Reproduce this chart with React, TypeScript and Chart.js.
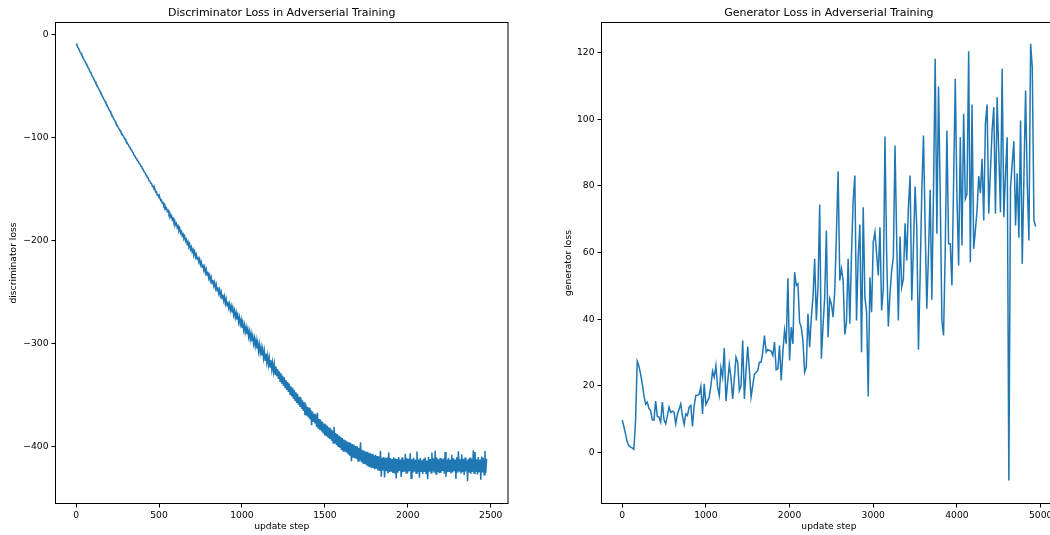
import React, { useEffect, useRef } from 'react';
import { Chart, registerables } from 'chart.js';

Chart.register(...registerables);

// ---------- data ----------
const DISC_STEP = 5; // update steps between stored discriminator samples
const DISC_LOSS = [
  -9.0, -10.4, -12.3, -13.6, -15.5, -17.1, -18.4, -20.3, -21.7, -23.6,
  -25.1, -26.4, -28.3, -29.7, -31.6, -33.0, -34.5, -36.3, -37.8, -39.6,
  -41.3, -42.5, -44.4, -45.8, -47.7, -48.9, -50.8, -52.3, -53.9, -55.6,
  -57.4, -58.6, -60.5, -61.9, -63.8, -65.0, -66.9, -68.2, -70.1, -71.4,
  -73.4, -74.5, -76.6, -77.8, -79.8, -81.0, -82.9, -84.3, -86.2, -87.5,
  -89.3, -90.2, -92.1, -93.1, -95.0, -95.8, -97.7, -98.5, -100.4, -101.3,
  -103.4, -104.1, -106.1, -107.0, -108.9, -109.6, -111.7, -112.4, -114.3, -115.1,
  -117.5, -117.9, -120.1, -120.6, -122.8, -123.0, -125.3, -125.7, -127.9, -128.2,
  -130.6, -131.0, -133.5, -133.7, -136.4, -136.6, -139.0, -139.3, -142.1, -142.2,
  -144.7, -144.8, -147.6, -147.4, -150.5, -150.2, -153.3, -152.9, -156.1, -155.8,
  -158.6, -158.5, -161.4, -160.8, -164.0, -163.4, -166.7, -165.8, -169.3, -168.5,
  -171.8, -170.9, -174.6, -173.4, -177.3, -175.9, -179.9, -178.6, -182.5, -181.2,
  -185.0, -183.6, -187.8, -186.0, -190.6, -188.5, -193.1, -191.4, -195.7, -194.0,
  -198.1, -196.3, -200.9, -199.0, -203.5, -201.4, -206.2, -204.1, -208.8, -206.5,
  -211.3, -209.0, -213.9, -211.2, -216.4, -213.8, -218.5, -216.0, -221.1, -218.2,
  -223.6, -221.0, -226.2, -223.4, -228.9, -225.8, -231.5, -228.3, -234.0, -230.6,
  -236.8, -233.9, -239.3, -236.0, -241.9, -238.5, -244.0, -240.7, -246.6, -243.1,
  -249.0, -245.6, -251.5, -247.9, -253.8, -250.3, -256.4, -252.6, -258.5, -254.7,
  -261.4, -257.2, -263.5, -259.6, -265.6, -261.8, -267.9, -263.7, -270.1, -265.6,
  -272.6, -268.3, -274.9, -270.3, -277.0, -272.8, -279.6, -274.9, -281.5, -277.2,
  -284.9, -280.0, -287.0, -282.1, -289.3, -284.3, -291.2, -286.5, -293.6, -288.4,
  -296.1, -290.6, -298.2, -293.1, -300.4, -295.0, -302.7, -296.8, -304.9, -299.3,
  -307.5, -301.2, -309.4, -303.6, -311.8, -305.7, -314.2, -307.6, -316.5, -310.0,
  -318.7, -312.1, -320.9, -314.3, -323.1, -316.4, -325.4, -318.8, -327.6, -320.7,
  -330.1, -322.5, -332.0, -324.9, -334.6, -327.2, -336.9, -329.0, -339.3, -331.4,
  -341.2, -333.1, -343.0, -335.6, -345.4, -337.5, -347.3, -339.2, -349.6, -341.8,
  -351.5, -343.0, -353.8, -345.1, -355.2, -347.6, -357.9, -349.0, -359.7, -351.9,
  -361.8, -352.6, -363.5, -355.4, -365.7, -357.3, -369.9, -359.6, -370.4, -361.8,
  -371.9, -362.5, -373.6, -364.8, -379.5, -366.2, -376.3, -368.4, -377.9, -369.1,
  -381.2, -367.5, -382.9, -373.5, -384.1, -374.8, -385.6, -376.2, -387.5, -377.9,
  -389.5, -378.8, -390.4, -380.1, -391.8, -381.9, -393.0, -383.0, -394.6, -384.4,
  -396.8, -381.0, -397.3, -387.0, -398.9, -388.2, -400.1, -389.6, -401.5, -390.8,
  -403.7, -392.0, -404.6, -393.5, -405.3, -394.1, -406.0, -395.5, -407.2, -396.0,
  -409.1, -396.6, -414.5, -397.9, -410.5, -398.3, -411.6, -399.8, -412.4, -400.1,
  -414.2, -401.5, -413.9, -396.2, -415.5, -403.4, -416.3, -404.0, -417.1, -405.2,
  -418.4, -405.3, -419.0, -406.1, -420.2, -406.8, -421.3, -407.5, -421.0, -408.9,
  -422.5, -408.3, -421.8, -409.6, -423.4, -410.1, -424.0, -404.5, -429.5, -411.3,
  -423.6, -410.4, -430.2, -411.2, -424.3, -410.9, -426.1, -405.8, -425.2, -411.5,
  -424.8, -412.3, -425.9, -410.6, -426.4, -411.8, -431.2, -412.5, -425.6, -410.4,
  -424.1, -412.8, -429.9, -411.0, -425.3, -413.4, -424.8, -407.2, -426.0, -411.6,
  -425.5, -412.1, -424.2, -406.9, -431.0, -412.7, -425.9, -411.3, -424.6, -413.0,
  -426.3, -405.1, -425.1, -412.9, -430.5, -411.5, -424.3, -413.6, -426.9, -412.2,
  -425.0, -411.0, -426.5, -413.8, -432.0, -410.3, -424.7, -412.4, -425.8, -406.0,
  -424.4, -411.7, -425.6, -404.3, -427.0, -410.9, -424.9, -412.6, -426.2, -411.4,
  -425.7, -412.5, -424.1, -411.9, -426.6, -405.5, -429.8, -412.8, -425.3, -411.1,
  -424.9, -413.2, -426.3, -408.4, -425.4, -411.6, -424.2, -412.9, -431.8, -410.7,
  -425.8, -404.9, -424.6, -412.7, -426.4, -407.8, -425.2, -412.2, -427.9, -411.0,
  -424.4, -413.5, -434.0, -412.1, -425.7, -410.9, -426.6, -412.4, -424.9, -403.8,
  -426.2, -405.6, -425.0, -412.6, -427.3, -410.4, -424.6, -413.0, -432.5, -409.9,
  -425.4, -411.2, -427.7, -404.5, -426.0, -412.0,
];

const GEN_STEP = 20; // update steps between stored generator samples
const GEN_LOSS = [
  9.8, 7.8, 5.6, 3.2, 2.0, 1.6, 1.4, 1.0, 9.5, 27.4,
  26.0, 23.5, 20.6, 17.0, 14.5, 15.1, 13.2, 12.6, 9.8, 9.7,
  15.4, 10.8, 10.6, 9.1, 15.1, 9.8, 8.6, 11.0, 13.6, 12.0,
  12.4, 12.1, 8.6, 11.5, 13.0, 14.6, 11.0, 8.4, 11.6, 11.1,
  13.6, 14.1, 7.8, 14.0, 17.1, 17.2, 17.4, 19.8, 11.6, 20.6,
  14.4, 15.5, 16.6, 20.0, 24.4, 22.6, 26.1, 19.6, 17.1, 25.4,
  22.6, 31.3, 15.4, 21.0, 26.4, 22.5, 16.1, 22.0, 28.6, 27.1,
  18.6, 20.1, 33.6, 16.1, 24.6, 31.8, 24.6, 16.6, 20.0, 23.6,
  24.0, 24.6, 27.1, 27.1, 30.1, 35.1, 30.1, 30.9, 30.6, 30.4,
  29.1, 33.1, 24.8, 25.1, 32.1, 21.6, 30.1, 36.6, 32.6, 52.3,
  27.6, 37.6, 32.6, 54.1, 50.1, 50.6, 39.1, 37.5, 33.5, 24.1,
  25.6, 41.6, 31.6, 40.6, 46.6, 58.1, 39.6, 50.0, 74.4, 28.1,
  38.0, 46.6, 66.6, 34.6, 46.1, 44.6, 40.6, 48.6, 65.6, 84.4,
  51.6, 55.1, 51.6, 35.4, 39.1, 58.1, 38.6, 59.6, 75.6, 83.1,
  39.6, 58.6, 68.4, 30.1, 73.6, 46.6, 42.1, 16.8, 52.6, 42.1,
  63.1, 66.1, 59.6, 53.1, 67.6, 42.6, 49.1, 94.8, 59.6, 37.8,
  47.6, 54.6, 58.6, 92.1, 63.6, 39.6, 64.8, 49.6, 52.1, 68.8,
  57.6, 73.6, 83.1, 45.6, 61.6, 79.8, 67.6, 30.8, 53.1, 78.6,
  95.1, 67.6, 43.1, 59.6, 78.8, 45.8, 78.6, 118.1, 65.6, 109.8,
  77.6, 39.6, 35.1, 60.6, 96.6, 62.6, 62.6, 50.1, 81.1, 112.1,
  76.6, 56.1, 94.6, 62.1, 101.6, 76.1, 77.6, 120.4, 57.1, 104.4,
  61.1, 66.6, 72.6, 82.9, 77.8, 88.1, 69.6, 98.6, 104.4, 71.6,
  84.6, 96.6, 103.6, 71.6, 106.6, 89.6, 72.1, 115.1, 70.6, 83.6,
  94.6, -8.4, 79.6, 86.6, 93.4, 68.1, 83.8, 64.4, 99.6, 56.6,
  82.6, 108.6, 80.6, 63.6, 122.6, 115.6, 69.6, 67.8,
];

const DISC_X_TICKS = [0, 500, 1000, 1500, 2000, 2500];
const DISC_Y_TICKS = [0, -100, -200, -300, -400];
const GEN_X_TICKS = [0, 1000, 2000, 3000, 4000, 5000];
const GEN_Y_TICKS = [0, 20, 40, 60, 80, 100, 120];

const DISC_TITLE = 'Discriminator Loss in Adverserial Training';
const GEN_TITLE = 'Generator Loss in Adverserial Training';
const X_LABEL = 'update step';
const DISC_Y_LABEL = 'discriminator loss';
const GEN_Y_LABEL = 'generator loss';

// ---------- helpers ----------
const FONT = 'DejaVu Sans';
const fmt = (v: number) => (v < 0 ? '\u2212' + Math.abs(v) : String(v));

const framePlugin = {
  id: 'frame',
  afterDraw(chart: any, _args: any, opts: any) {
    const { ctx, chartArea: a } = chart;
    ctx.save();
    ctx.strokeStyle = '#000';
    ctx.lineWidth = 1;
    ctx.strokeRect(a.left, a.top, a.right - a.left, a.bottom - a.top);
    ctx.font = `11px "${FONT}"`;
    ctx.fillStyle = '#000';
    ctx.textAlign = 'center';
    ctx.textBaseline = 'alphabetic';
    ctx.fillText(opts.text, (a.left + a.right) / 2, 15.5);
    ctx.restore();
  },
};

type Props = {
  left: number;
  width: number;
  title: string;
  yLabel: string;
  step: number;
  values: number[];
  xTicks: number[];
  yTicks: number[];
  xMin: number;
  xMax: number;
  yMin: number;
  yMax: number;
  yAxisWidth: number;
  yTitlePad: number;
  padRight: number;
};

function LossChart(p: Props) {
  const ref = useRef<HTMLCanvasElement | null>(null);
  useEffect(() => {
    if (!ref.current) return;
    const tickFont = { family: FONT, size: 9.2 };
    const chart = new Chart(ref.current, {
      type: 'line',
      data: {
        datasets: [
          {
            data: p.values.map((y, i) => ({ x: i * p.step, y })),
            borderColor: '#1f77b4',
            borderWidth: 1.5,
            pointRadius: 0,
            tension: 0,
            fill: false,
          },
        ],
      },
      options: {
        responsive: false,
        animation: false,
        devicePixelRatio: 1,
        layout: { padding: { top: 22.5, right: p.padRight, bottom: 0, left: 0 } },
        plugins: {
          legend: { display: false },
          tooltip: { enabled: false },
          frame: { text: p.title },
        } as any,
        scales: {
          x: {
            type: 'linear',
            min: p.xMin,
            max: p.xMax,
            afterBuildTicks: (s: any) => {
              s.ticks = p.xTicks.map((v) => ({ value: v }));
            },
            afterFit: (s: any) => {
              s.height = 31.5;
            },
            ticks: {
              callback: (v: any) => fmt(Number(v)),
              font: tickFont,
              color: '#000',
              padding: 2.5,
              maxRotation: 0,
              autoSkip: false,
            },
            grid: {
              display: true,
              drawOnChartArea: false,
              drawTicks: true,
              tickLength: 4,
              tickColor: '#000',
              tickWidth: 1,
            },
            border: { display: false },
            title: {
              display: true,
              text: X_LABEL,
              font: tickFont,
              color: '#000',
              padding: { top: 0, bottom: 2.5 },
            },
          },
          y: {
            type: 'linear',
            min: p.yMin,
            max: p.yMax,
            afterBuildTicks: (s: any) => {
              s.ticks = p.yTicks.map((v) => ({ value: v }));
            },
            afterFit: (s: any) => {
              s.width = p.yAxisWidth;
            },
            ticks: {
              callback: (v: any) => fmt(Number(v)),
              font: tickFont,
              color: '#000',
              padding: 3,
              autoSkip: false,
            },
            grid: {
              display: true,
              drawOnChartArea: false,
              drawTicks: true,
              tickLength: 4,
              tickColor: '#000',
              tickWidth: 1,
            },
            border: { display: false },
            title: {
              display: true,
              text: p.yLabel,
              font: tickFont,
              color: '#000',
              padding: { top: p.yTitlePad, bottom: 0 },
            },
          },
        },
      } as any,
      plugins: [framePlugin as any],
    });
    return () => chart.destroy();
  }, []);
  return (
    <canvas
      ref={ref}
      width={p.width}
      height={535}
      style={{ position: 'absolute', left: p.left, top: 0, width: p.width, height: 535 }}
    />
  );
}

export default function App() {
  return (
    <div
      style={{
        position: 'fixed',
        left: 0,
        top: 0,
        width: 1050,
        height: 535,
        overflow: 'hidden',
        background: '#fff',
      }}
    >
      <LossChart
        left={0}
        width={525}
        title={DISC_TITLE}
        yLabel={DISC_Y_LABEL}
        step={DISC_STEP}
        values={DISC_LOSS}
        xTicks={DISC_X_TICKS}
        yTicks={DISC_Y_TICKS}
        xMin={-124}
        xMax={2604}
        yMin={-455.6}
        yMax={11.6}
        yAxisWidth={55.5}
        yTitlePad={8.5}
        padRight={17}
      />
      <LossChart
        left={545}
        width={530}
        title={GEN_TITLE}
        yLabel={GEN_Y_LABEL}
        step={GEN_STEP}
        values={GEN_LOSS}
        xTicks={GEN_X_TICKS}
        yTicks={GEN_Y_TICKS}
        xMin={-247}
        xMax={5187}
        yMin={-15.3}
        yMax={129}
        yAxisWidth={56.5}
        yTitlePad={18.5}
        padRight={18.7}
      />
    </div>
  );
}
